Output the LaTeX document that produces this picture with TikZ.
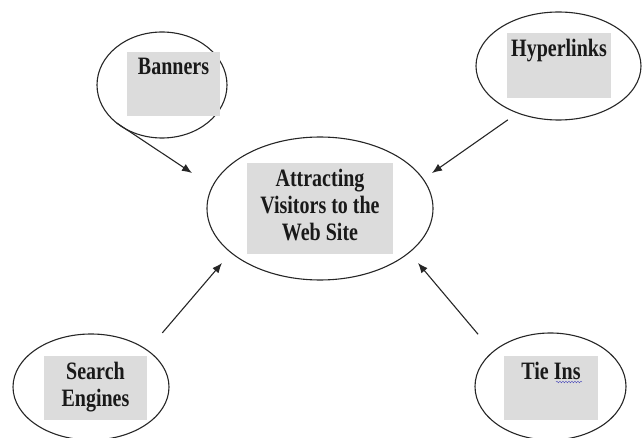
\documentclass[tikz,border=0pt]{standalone}
\usepackage{fontspec}
\newfontfamily\boxfont{Liberation Serif}[FakeStretch=0.8]
\usepackage{tikz}
\usetikzlibrary{positioning,shapes.geometric,arrows.meta,decorations.pathmorphing}
\definecolor{boxgray}{RGB}{220,220,220}

\begin{document}
\begin{tikzpicture}[x=1pt, y=1pt,
			ovalnode/.style={ellipse, draw=black!85, line width=1.1pt, outer sep=0pt, inner sep=0pt},
			greybox/.style={rectangle, fill=boxgray, inner sep=0pt},
			boxtext/.style={anchor=north, inner sep=6pt, align=center, text=black!90,
				font={\boxfont\bfseries\fontsize{25}{27}\selectfont}},
			pointer/.style={-{Latex[length=10pt,width=8pt]}, line width=1.1pt, draw=black!85},
		]
		
			\useasboundingbox (0,0) rectangle (643,437);
		
			%Nodes
			\node[ovalnode, minimum width=130pt, minimum height=106pt]	(banners)	at (162,352)	{};
			\node[greybox, minimum width=93pt, minimum height=64pt, label={[boxtext]north:Banners}]	(bannersbox)	at (173.5,353)	{};
		
			\node[ovalnode, minimum width=165pt, minimum height=108pt]	(hyper)		at (558.5,371)	{};
			\node[greybox, minimum width=104pt, minimum height=65pt, label={[boxtext]north:Hyperlinks}]	(hyperbox)	at (559,371.5)	{};
		
			\node[ovalnode, minimum width=226pt, minimum height=143pt]	(visitors)	at (320,228.5)	{};
			\node[greybox, minimum width=146pt, minimum height=91pt, label={[boxtext]north:{Attracting\\Visitors to the\\Web Site}}]	(visitorsbox)	at (320,228.5)	{};
		
			\node[ovalnode, minimum width=156pt, minimum height=106pt]	(search)	at (91,50)		{};
			\node[greybox, minimum width=103pt, minimum height=64pt, label={[boxtext]north:{Search\\Engines}}]	(searchbox)	at (95.5,49)	{};
		
			\node[ovalnode, minimum width=151pt, minimum height=107pt]	(tieins)	at (550.5,50.5)	{};
			\node[greybox, minimum width=94pt, minimum height=64pt, label={[boxtext]north:Tie Ins}]	(tieinsbox)	at (551,49)	{};
		
			%Arrow tips
			\coordinate (tipB) at (192,264);
			\coordinate (tipH) at (432,264);
			\coordinate (tipS) at (222,174);
			\coordinate (tipT) at (418,174);
		
			%Lines
			\draw[pointer]						(banners.220)	-- (tipB);
			\draw[pointer, shorten <=12pt]		(hyper.229)		-- (tipH);
			\draw[pointer, shorten <=23pt]		(search.33)		-- (tipS);
			\draw[pointer, shorten <=23pt]		(tieins.149)	-- (tipT);
		
			%Spelling mark
			\draw[blue!45!gray, decorate, decoration={snake, amplitude=0.8pt, segment length=3pt}] (556,55) -- (582,55);
		
		\end{tikzpicture}
\end{document}
